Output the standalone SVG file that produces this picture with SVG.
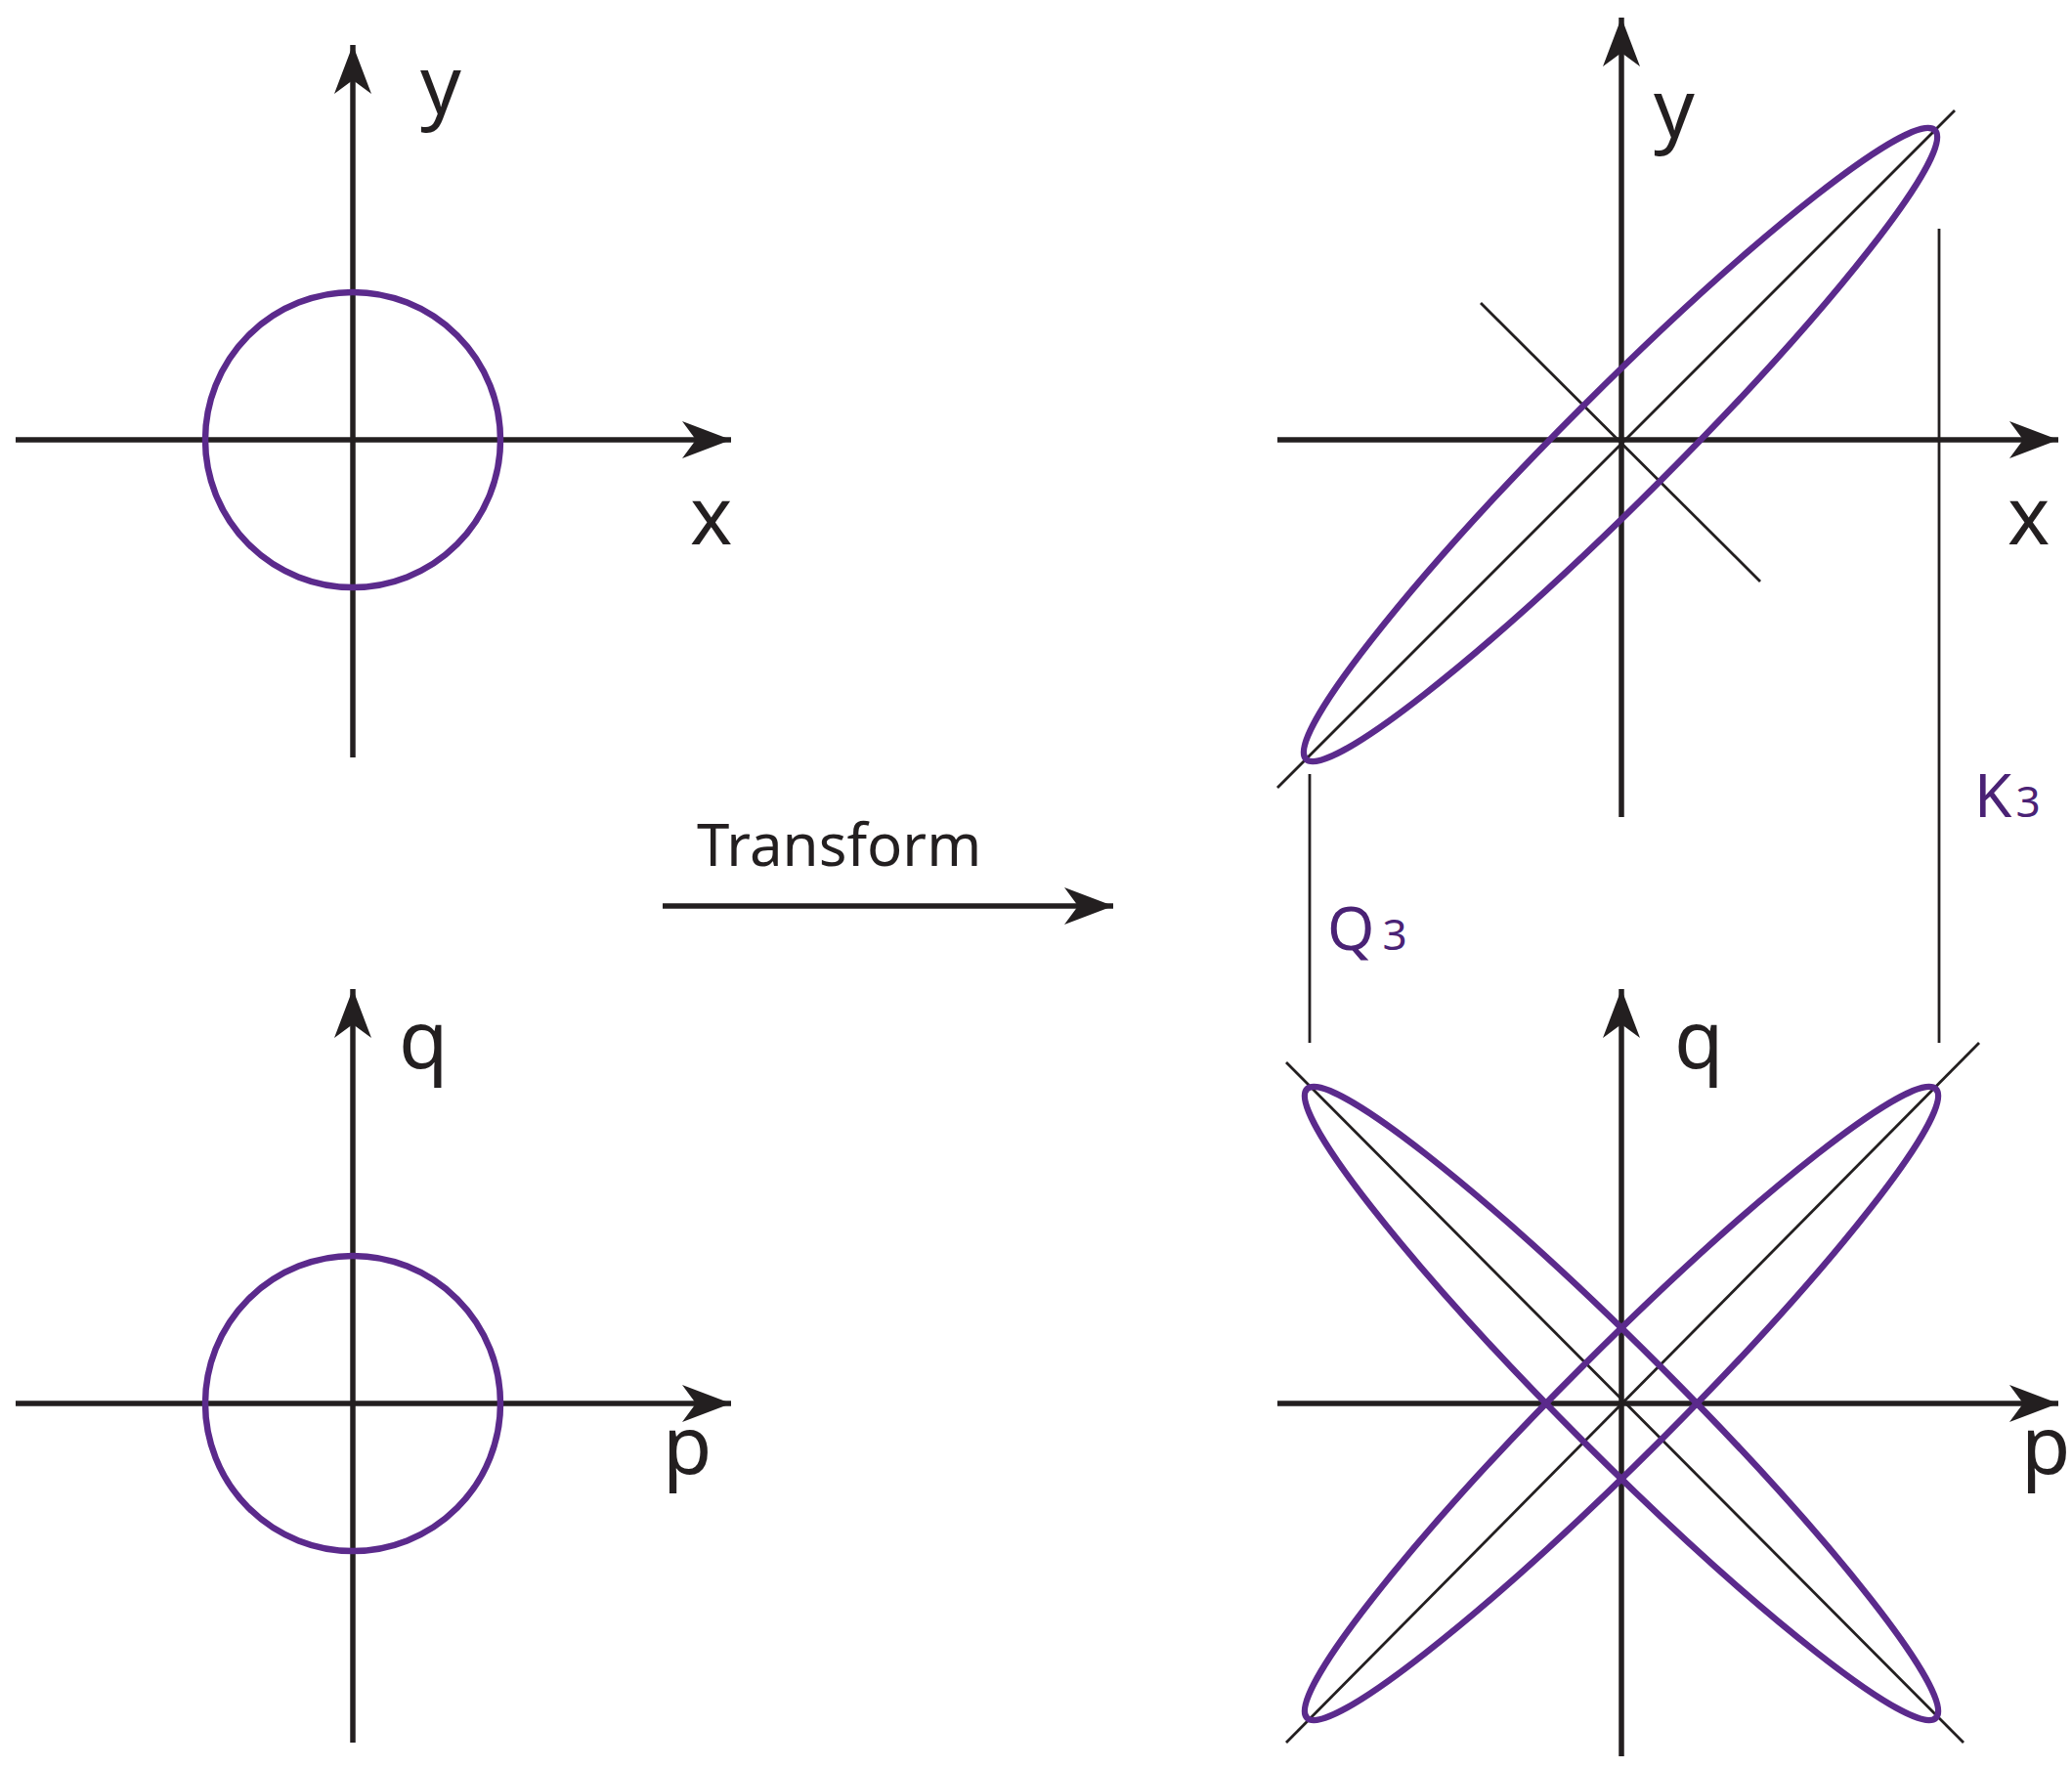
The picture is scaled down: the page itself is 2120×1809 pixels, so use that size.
<svg xmlns="http://www.w3.org/2000/svg" width="2120" height="1809" viewBox="0 0 2120 1809">
<defs>
<marker id="ah" markerUnits="userSpaceOnUse" viewBox="-52 -20 54 40" refX="0" refY="0" markerWidth="54" markerHeight="40" orient="auto">
<path d="M0,0 L-50,-19 L-36,0 L-50,19 Z" fill="#231f20"/>
</marker>
</defs>
<style>
.ax{stroke:#231f20;stroke-width:5.5;fill:none}
.axa{stroke:#231f20;stroke-width:5.5;fill:none;marker-end:url(#ah)}
.thin{stroke:#231f20;stroke-width:2.8;fill:none}
.pur{stroke:#5b2a8c;stroke-width:6.5;fill:none}
.lbl{font-family:"Noto Sans","Open Sans",sans-serif;font-size:82px;fill:#231f20}
.pl{font-family:"Noto Sans","Open Sans",sans-serif;font-size:62px;fill:#4a2275}
.sub{font-size:44px}
</style>
<rect width="2120" height="1809" fill="#fff"/>
<g id="panel-top-left">
<line class="axa" x1="361" y1="775" x2="361" y2="46"/>
<line class="axa" x1="16" y1="450" x2="748" y2="450"/>
<circle class="pur" cx="361" cy="450" r="151"/>
<text class="lbl" x="430" y="116">y</text>
<text class="lbl" x="706" y="557">x</text>
</g>
<g id="panel-bottom-left">
<line class="axa" x1="361" y1="1783" x2="361" y2="1012"/>
<line class="axa" x1="16" y1="1436" x2="748" y2="1436"/>
<circle class="pur" cx="361" cy="1436" r="151"/>
<text class="lbl" x="408" y="1093">q</text>
<text class="lbl" x="678" y="1508">p</text>
</g>
<g id="transform">
<line class="axa" x1="678" y1="927" x2="1139" y2="927"/>
<text x="713" y="886" style="font-family:'Noto Sans','Open Sans',sans-serif;font-size:60px;fill:#231f20">Transform</text>
</g>
<g id="panel-top-right">
<line class="axa" x1="1659" y1="836" x2="1659" y2="18"/>
<line class="axa" x1="1307" y1="450" x2="2106" y2="450"/>
<line class="thin" x1="1307" y1="806" x2="2000" y2="113"/>
<line class="thin" x1="1515" y1="310" x2="1801" y2="595"/>
<ellipse class="pur" cx="1658" cy="455" rx="455" ry="55" transform="rotate(-45 1658 455)"/>
<text class="lbl" x="1692" y="140">y</text>
<text class="lbl" x="2054" y="557">x</text>
</g>
<g id="panel-bottom-right">
<line class="axa" x1="1659" y1="1797" x2="1659" y2="1012"/>
<line class="axa" x1="1307" y1="1436" x2="2106" y2="1436"/>
<line class="thin" x1="1316" y1="1087" x2="2009" y2="1783"/>
<line class="thin" x1="1316" y1="1783" x2="2025" y2="1067"/>
<ellipse class="pur" cx="1659" cy="1436" rx="455" ry="55" transform="rotate(-45 1659 1436)"/>
<ellipse class="pur" cx="1659" cy="1436" rx="455" ry="55" transform="rotate(45 1659 1436)"/>
<text class="lbl" x="1713" y="1093">q</text>
<text class="lbl" x="2068" y="1508">p</text>
</g>
<g id="connectors">
<line class="thin" x1="1340" y1="792" x2="1340" y2="1067"/>
<line class="thin" x1="1984" y1="234" x2="1984" y2="1067"/>
</g>
<g id="labels">
<text class="pl" x="1358" y="972">Q<tspan class="sub" dx="8">3</tspan></text>
<text class="pl" x="2020" y="836">K<tspan class="sub" dx="4">3</tspan></text>
</g>
</svg>
